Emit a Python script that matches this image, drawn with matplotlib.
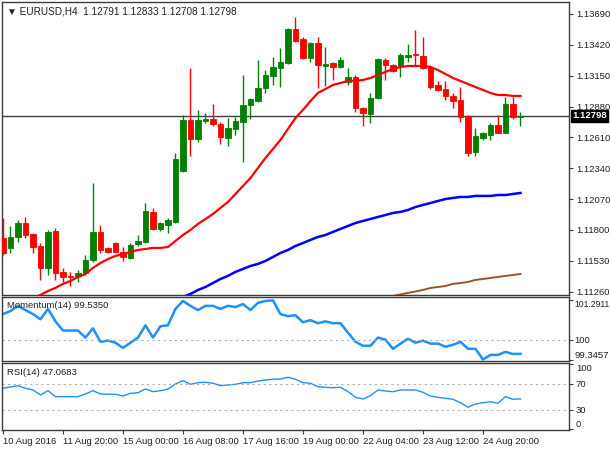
import matplotlib
matplotlib.use("Agg")
import matplotlib.pyplot as plt
import matplotlib.transforms as mtransforms
import numpy as np

plt.rcParams['font.family'] = ['Liberation Sans', 'DejaVu Sans']

# EURUSD H4 candles
opens = [1.11730, 1.11643, 1.11739, 1.11861, 1.11765, 1.11660, 1.11468, 1.11791, 1.11433, 1.11398,
         1.11398, 1.11424, 1.11538, 1.11783, 1.11643, 1.11686, 1.11608, 1.11555, 1.11678, 1.11695,
         1.11958, 1.11809, 1.11844, 1.11870, 1.12316, 1.12763, 1.12596, 1.12754, 1.12771, 1.12728,
         1.12605, 1.12684, 1.12745, 1.12894, 1.12929, 1.13043, 1.13148, 1.13218, 1.13261, 1.13559,
         1.13471, 1.13305, 1.13436, 1.13235, 1.13261, 1.13226, 1.13095, 1.13139, 1.12868, 1.12815,
         1.12955, 1.13288, 1.13244, 1.13235, 1.13314, 1.13340, 1.13323, 1.13226, 1.13069, 1.13034,
         1.12973, 1.12938, 1.12798, 1.12483, 1.12605, 1.12631, 1.12719, 1.12649, 1.12903, 1.12791]
highs = [1.11905, 1.11835, 1.11888, 1.11914, 1.11774, 1.11686, 1.11800, 1.11818, 1.11468, 1.11433,
         1.11450, 1.11581, 1.12211, 1.11844, 1.11651, 1.11695, 1.11651, 1.11686, 1.11756, 1.12036,
         1.11993, 1.11870, 1.11905, 1.12474, 1.12806, 1.13218, 1.12850, 1.12824, 1.12903, 1.12745,
         1.12780, 1.12789, 1.13156, 1.12955, 1.13288, 1.13200, 1.13314, 1.13393, 1.13568, 1.13664,
         1.13489, 1.13445, 1.13489, 1.13400, 1.13270, 1.13314, 1.13218, 1.13156, 1.12876, 1.12999,
         1.13305, 1.13305, 1.13253, 1.13349, 1.13428, 1.13550, 1.13489, 1.13244, 1.13104, 1.13104,
         1.12999, 1.13051, 1.12806, 1.12693, 1.12658, 1.12736, 1.12806, 1.12964, 1.12964, 1.12833]
lows = [1.11581, 1.11599, 1.11695, 1.11730, 1.11599, 1.11363, 1.11406, 1.11363, 1.11345, 1.11310,
        1.11345, 1.11406, 1.11520, 1.11599, 1.11599, 1.11599, 1.11529, 1.11546, 1.11660, 1.11686,
        1.11800, 1.11791, 1.11774, 1.11861, 1.12308, 1.12448, 1.12570, 1.12736, 1.12710, 1.12553,
        1.12535, 1.12631, 1.12395, 1.12771, 1.12920, 1.12999, 1.13069, 1.13051, 1.13253, 1.13445,
        1.13296, 1.13270, 1.13043, 1.13060, 1.13113, 1.13218, 1.13069, 1.12833, 1.12710, 1.12736,
        1.12946, 1.13113, 1.13183, 1.13139, 1.13270, 1.13244, 1.13209, 1.13034, 1.13016, 1.12938,
        1.12868, 1.12745, 1.12448, 1.12448, 1.12588, 1.12588, 1.12649, 1.12649, 1.12771, 1.12708]
closes = [1.11599, 1.11739, 1.11861, 1.11756, 1.11651, 1.11468, 1.11783, 1.11424, 1.11389, 1.11389,
          1.11424, 1.11538, 1.11783, 1.11625, 1.11608, 1.11608, 1.11564, 1.11669, 1.11704, 1.11966,
          1.11809, 1.11861, 1.11888, 1.12421, 1.12763, 1.12596, 1.12763, 1.12771, 1.12728, 1.12614,
          1.12693, 1.12754, 1.12894, 1.12946, 1.13043, 1.13156, 1.13226, 1.13270, 1.13559, 1.13454,
          1.13305, 1.13436, 1.13244, 1.13253, 1.13226, 1.13288, 1.13139, 1.12868, 1.12824, 1.12955,
          1.13296, 1.13244, 1.13191, 1.13331, 1.13331, 1.13331, 1.13218, 1.13051, 1.13025, 1.12973,
          1.12929, 1.12789, 1.12474, 1.12623, 1.12649, 1.12719, 1.12649, 1.12903, 1.12789, 1.12798]

# moving averages (fast red, 100 blue, 200 brown)
ma_fast = [1.11083, 1.11109, 1.11144, 1.11170, 1.11205, 1.11231, 1.11266, 1.11293, 1.11328, 1.11354,
           1.11389, 1.11415, 1.11468, 1.11511, 1.11546, 1.11573, 1.11590, 1.11608, 1.11625, 1.11634,
           1.11643, 1.11643, 1.11651, 1.11704, 1.11756, 1.11800, 1.11853, 1.11896, 1.11940, 1.11993,
           1.12045, 1.12115, 1.12185, 1.12255, 1.12343, 1.12430, 1.12509, 1.12588, 1.12684, 1.12780,
           1.12850, 1.12929, 1.12999, 1.13034, 1.13069, 1.13086, 1.13104, 1.13104, 1.13113, 1.13130,
           1.13156, 1.13183, 1.13209, 1.13226, 1.13235, 1.13235, 1.13235, 1.13226, 1.13200, 1.13165,
           1.13130, 1.13104, 1.13078, 1.13051, 1.13025, 1.12999, 1.12981, 1.12981, 1.12973, 1.12973]
ma_mid_start = 24
ma_mid = [1.11214, 1.11240, 1.11275, 1.11301, 1.11336, 1.11371, 1.11398, 1.11433, 1.11459, 1.11485,
          1.11503, 1.11529, 1.11564, 1.11599, 1.11625, 1.11660, 1.11686, 1.11713, 1.11739, 1.11756,
          1.11783, 1.11809, 1.11835, 1.11861, 1.11879, 1.11896, 1.11914, 1.11931, 1.11949, 1.11958,
          1.11975, 1.12001, 1.12019, 1.12036, 1.12054, 1.12071, 1.12080, 1.12089, 1.12089, 1.12098,
          1.12098, 1.12098, 1.12106, 1.12106, 1.12115, 1.12124]
ma_slow_start = 52
ma_slow = [1.11223, 1.11236, 1.11249, 1.11262, 1.11275, 1.11293, 1.11301, 1.11310, 1.11328, 1.11336,
           1.11345, 1.11363, 1.11371, 1.11380, 1.11389, 1.11398, 1.11406, 1.11415]

momentum = [100.84, 100.94, 101.11, 100.97, 100.84, 100.67, 101.01, 100.60, 100.30, 100.30,
            100.30, 100.07, 100.37, 99.93, 99.97, 99.90, 99.73, 99.90, 100.07, 100.47,
            100.07, 100.44, 100.47, 101.01, 101.27, 101.11, 100.97, 101.11, 101.11, 101.01,
            101.11, 101.07, 101.17, 100.97, 101.21, 101.27, 101.29, 100.84, 100.77, 100.80,
            100.57, 100.64, 100.54, 100.60, 100.54, 100.54, 100.23, 99.93, 99.80, 99.80,
            100.07, 100.00, 99.70, 99.87, 100.03, 99.90, 99.97, 99.87, 99.87, 99.77,
            99.83, 99.93, 99.70, 99.70, 99.35, 99.50, 99.50, 99.60, 99.53, 99.535]
rsi = [63.4, 65.4, 67.4, 63.4, 60.8, 53.1, 59.7, 50.5, 50.5, 50.5,
       50.5, 54.6, 59.7, 54.6, 54.3, 54.2, 51.5, 55.7, 56.6, 62.3,
       58.2, 59.7, 62.3, 70.0, 75.1, 69.5, 72.0, 72.6, 71.1, 67.4,
       68.5, 69.5, 72.0, 72.0, 74.6, 76.2, 77.2, 77.7, 80.3, 77.2,
       72.0, 71.1, 65.8, 64.9, 64.3, 64.9, 58.2, 49.5, 46.9, 52.0,
       60.8, 59.2, 58.2, 60.8, 60.8, 60.8, 57.2, 51.5, 49.5, 48.0,
       46.5, 41.2, 34.2, 39.2, 41.2, 42.8, 40.3, 50.5, 46.5, 47.07]

price_ticks = [1.11260, 1.11530, 1.11800, 1.12070, 1.12340, 1.12610, 1.12880, 1.13150, 1.13420, 1.13690]
last_price = 1.12798
date_labels = ['10 Aug 2016', '11 Aug 20:00', '15 Aug 00:00', '16 Aug 08:00', '17 Aug 16:00',
               '19 Aug 00:00', '22 Aug 04:00', '23 Aug 12:00', '24 Aug 20:00']
date_pos = [0, 8, 16, 24, 32, 40, 48, 56, 64]

BULL = '#008000'
BEAR = '#ff0000'
EDGE = '#3c3c3c'
FS = 6.8

fig = plt.figure(figsize=(6.1, 4.5), dpi=100)
ax = fig.add_axes([2 / 610, 1 - 295 / 450, 567 / 610, 293 / 450])
ax_mom = fig.add_axes([2 / 610, 1 - 361 / 450, 567 / 610, 64 / 450])
ax_rsi = fig.add_axes([2 / 610, 1 - 430 / 450, 567 / 610, 67 / 450])

x = np.arange(len(opens))
for i in x:
    o, h, l, c = opens[i], highs[i], lows[i], closes[i]
    col = BULL if c >= o else BEAR
    ax.vlines(i, l, h, color=col, lw=1, zorder=3)
    body = max(abs(c - o), 0.00002)
    ax.bar(i, body, bottom=min(o, c), width=0.68, color=col, edgecolor=col, lw=0.6, zorder=4)

ax.plot(x, ma_fast, color='#ff0000', lw=1.6, zorder=5)
ax.plot(np.arange(ma_mid_start, ma_mid_start + len(ma_mid)), ma_mid, color='#0000ff', lw=1.8, zorder=5)
ax.plot(np.arange(ma_slow_start, ma_slow_start + len(ma_slow)), ma_slow, color='#a0522d', lw=1.4, zorder=5)
ax.axhline(last_price, color='#404040', lw=1, zorder=2)

xlim = (-0.13, 75.47)
ax.set_xlim(*xlim)
ax.set_ylim(1.11231, 1.13795)
ax.yaxis.tick_right()
ax.set_yticks(price_ticks)
ax.set_yticklabels(['%.5f' % p for p in price_ticks])
ax.set_xticks([])

trans = mtransforms.blended_transform_factory(ax.transAxes, ax.transData)
ax.text(1.006, last_price, '%.5f' % last_price, transform=trans, ha='left', va='center',
        color='white', fontsize=FS, fontweight='bold',
        bbox=dict(boxstyle='square,pad=0.15', fc='black', ec='black'))
ax.text(0.008, 0.985, '\u25bc EURUSD,H4  1.12791 1.12833 1.12708 1.12798', transform=ax.transAxes,
        ha='left', va='top', fontsize=FS + 0.4, color='#202020')

# momentum panel
ax_mom.plot(x, momentum, color='#1e90ff', lw=1.8)
ax_mom.axhline(100, color='#b0b0b0', lw=0.8, ls=(0, (2, 3)))
ax_mom.set_xlim(*xlim)
ax_mom.set_ylim(99.30, 101.40)
ax_mom.yaxis.tick_right()
mom_ticks = [99.3457, 100, 101.2911]
ax_mom.set_yticks(mom_ticks)
ax_mom.set_yticklabels(['99.3457', '100', '101.2911'])
ax_mom.set_xticks([])
ax_mom.text(0.008, 0.93, 'Momentum(14) 99.5350', transform=ax_mom.transAxes,
            ha='left', va='top', fontsize=FS, color='#202020')

# rsi panel
ax_rsi.plot(x, rsi, color='#1e90ff', lw=1)
for lvl in (30, 70):
    ax_rsi.axhline(lvl, color='#b0b0b0', lw=0.8, ls=(0, (2, 3)))
ax_rsi.set_xlim(*xlim)
ax_rsi.set_ylim(-0.8, 102.3)
ax_rsi.yaxis.tick_right()
ax_rsi.set_yticks([0, 30, 70, 100])
ax_rsi.set_yticklabels(['0', '30', '70', '100'])
ax_rsi.text(0.008, 0.93, 'RSI(14) 47.0683', transform=ax_rsi.transAxes,
            ha='left', va='top', fontsize=FS, color='#202020')
ax_rsi.set_xticks(date_pos)
ax_rsi.set_xticklabels(date_labels)
for lab in ax_rsi.get_xticklabels():
    lab.set_ha('left')

for a in (ax, ax_mom, ax_rsi):
    for s in a.spines.values():
        s.set_color(EDGE)
        s.set_linewidth(1)
    a.tick_params(axis='both', direction='out', length=3, width=0.8, color=EDGE,
                  labelsize=FS, labelcolor='#202020', pad=2)
ax_mom.tick_params(axis='y', pad=1)

# keep extreme indicator labels inside their panel like the terminal does
labs = ax_mom.get_yticklabels()
labs[0].set_va('bottom')
labs[2].set_va('top')
labs[2].set_fontsize(6.2)
labs = ax_rsi.get_yticklabels()
labs[0].set_va('bottom')
labs[3].set_va('top')

fig.savefig('out.png', dpi=100, facecolor='white')
